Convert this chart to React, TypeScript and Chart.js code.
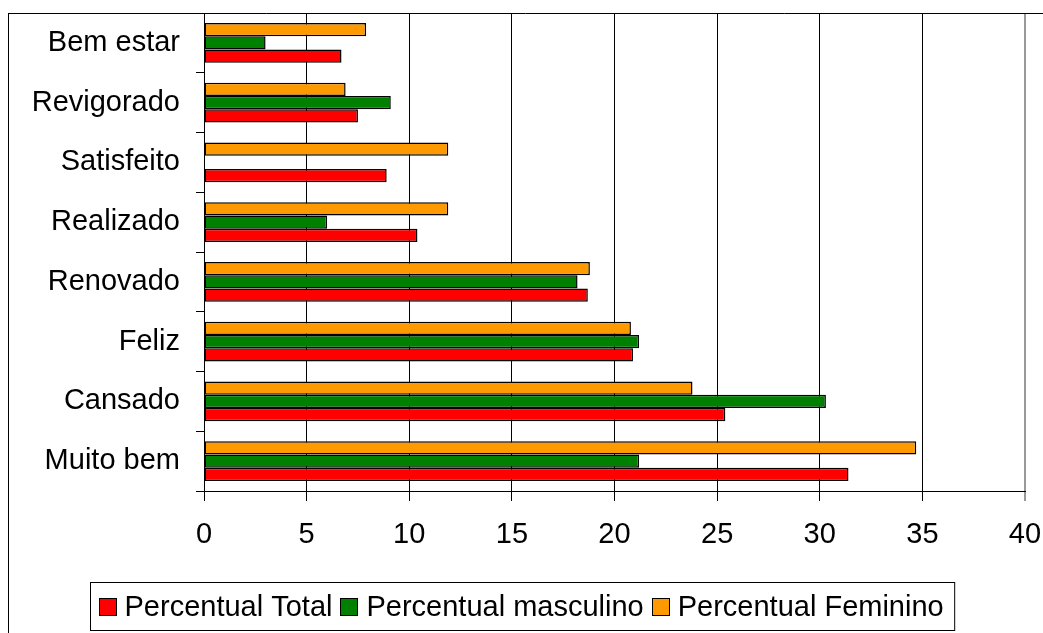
import React, { useEffect, useRef } from 'react';
import { Chart, registerables } from 'chart.js';

Chart.register(...registerables);

const categories = ['Bem estar', 'Revigorado', 'Satisfeito', 'Realizado', 'Renovado', 'Feliz', 'Cansado', 'Muito bem'];
const percentualTotal = [6.7, 7.5, 8.9, 10.4, 18.7, 20.9, 25.4, 31.4];
const percentualMasculino = [3.0, 9.1, 0, 6.0, 18.2, 21.2, 30.3, 21.2];
const percentualFeminino = [7.9, 6.9, 11.9, 11.9, 18.8, 20.8, 23.8, 34.7];
const xTicks = [0, 5, 10, 15, 20, 25, 30, 35, 40];
const legendNames = ['Percentual Total', 'Percentual masculino', 'Percentual Feminino'];
const legendColors = ['#FF0000', '#008000', '#FF9900'];

const FONT = '"Liberation Sans", Arial, sans-serif';
const FS = 29;

const framePlugin = {
  id: 'frameAndLegend',
  afterDraw(chart: any) {
    const ctx = chart.ctx as CanvasRenderingContext2D;
    ctx.save();
    ctx.strokeStyle = '#000';
    ctx.lineWidth = 1;
    ctx.beginPath();
    ctx.moveTo(0, 5.5);
    ctx.lineTo(chart.width, 5.5);
    ctx.moveTo(0.5, 5);
    ctx.lineTo(0.5, chart.height);
    ctx.stroke();

    // legend
    ctx.font = `${FS}px ${FONT}`;
    const box = 18, gap = 8, spacing = 8, padL = 8, padR = 11;
    const widths = legendNames.map((n) => ctx.measureText(n).width);
    let total = padL + padR;
    widths.forEach((w, i) => {
      total += box + gap + w + (i < widths.length - 1 ? spacing : 0);
    });
    const left = Math.round(chart.width / 2 - 3 - total / 2) + 0.5;
    const top = chart.height - 51 + 0.5;
    const h = 48;
    ctx.strokeStyle = '#000';
    ctx.lineWidth = 1;
    ctx.strokeRect(left, top, total, h);
    const cy = top + h / 2;
    let x = left + padL;
    legendNames.forEach((n, i) => {
      ctx.fillStyle = legendColors[i];
      ctx.fillRect(Math.round(x), Math.round(cy - box / 2), box, box);
      ctx.strokeStyle = '#000';
      ctx.strokeRect(Math.round(x) + 0.5, Math.round(cy - box / 2) + 0.5, box - 1, box - 1);
      x += box + gap;
      ctx.fillStyle = '#000';
      ctx.textBaseline = 'middle';
      ctx.textAlign = 'left';
      ctx.fillText(n, x, cy + 1);
      x += widths[i] + spacing;
    });
    ctx.restore();
  },
};

export default function App() {
  const ref = useRef<HTMLCanvasElement>(null);
  useEffect(() => {
    if (!ref.current) return;
    document.documentElement.style.overflow = 'hidden';
    Chart.defaults.font.family = FONT;
    const chart = new Chart(ref.current, {
      type: 'bar',
      data: {
        labels: categories,
        datasets: [
          { label: legendNames[2], data: percentualFeminino, backgroundColor: legendColors[2] },
          { label: legendNames[1], data: percentualMasculino, backgroundColor: legendColors[1] },
          { label: legendNames[0], data: percentualTotal, backgroundColor: legendColors[0] },
        ],
      },
      options: {
        indexAxis: 'y',
        animation: false,
        responsive: false,
        layout: { padding: { top: 5, right: 18, left: 0, bottom: 62 } },
        datasets: {
          bar: {
            categoryPercentage: 0.667,
            barPercentage: 1,
            borderWidth: 1.5,
            borderColor: '#000',
            borderSkipped: false,
          },
        },
        plugins: { legend: { display: false }, tooltip: { enabled: false } },
        scales: {
          x: {
            min: 0,
            max: 40,
            afterBuildTicks: (s: any) => {
              s.ticks = xTicks.map((v) => ({ value: v }));
            },
            ticks: { color: '#000', font: { size: FS }, padding: 17, maxRotation: 0 },
            grid: {
              color: (c: any) => (c.tick && c.tick.value === 40 ? '#999' : '#000'),
              lineWidth: (c: any) => (c.tick && c.tick.value === 40 ? 2 : 1),
              tickLength: 10,
              drawTicks: true,
            },
            border: { color: '#000', width: 1 },
            afterFit: (s: any) => {
              s.height = 80;
              s.paddingLeft = 0;
              s.paddingRight = 0;
            },
          },
          y: {
            ticks: { color: '#000', font: { size: FS }, padding: 16 },
            grid: { offset: true, drawOnChartArea: false, tickLength: 8, color: '#000' },
            border: { color: '#000', width: 1 },
            afterFit: (s: any) => {
              s.width = 196;
              s.paddingTop = 0;
              s.paddingBottom = 0;
            },
          },
        },
      },
      plugins: [framePlugin],
    });
    return () => chart.destroy();
  }, []);
  return (
    <div style={{ position: 'fixed', left: 8, top: 8, width: 1035, height: 625 }}>
      <canvas ref={ref} width={1035} height={625} style={{ display: 'block' }} />
    </div>
  );
}
